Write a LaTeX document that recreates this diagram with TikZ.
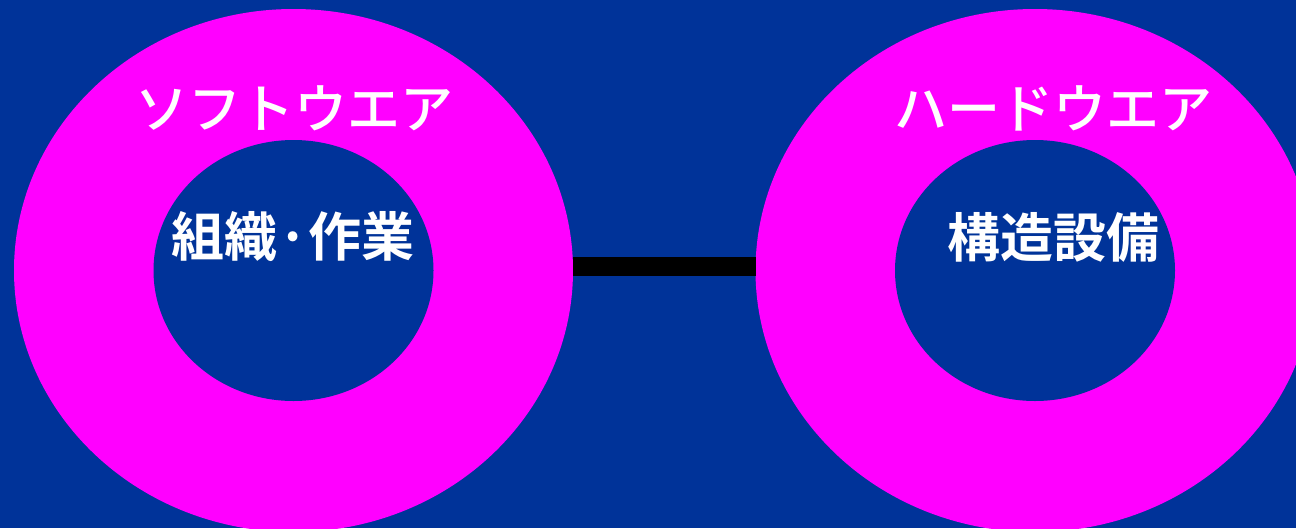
\documentclass[tikz,border=0pt]{standalone}
\usepackage{fontspec}
\newfontfamily\cjk{Noto Sans CJK JP}[BoldFont={Noto Sans CJK JP Bold}]
\newfontfamily\cjkmed{Noto Sans CJK JP Medium}
\usetikzlibrary{shapes.geometric}
\definecolor{bg}{HTML}{003399}
\definecolor{mag}{HTML}{FF00FF}
\tikzset{
  outerring/.style={ellipse, fill=mag, draw=none, inner sep=0pt, outer sep=0pt, minimum width=559pt, minimum height=523pt},
  innerhole/.style={ellipse, fill=bg, draw=none, inner sep=0pt, outer sep=0pt, minimum width=280pt, minimum height=261pt},
  ringlabel/.style={text=white, font=\cjkmed\fontsize{53}{60}\selectfont, inner sep=0pt},
  corelabel/.style={text=white, font=\cjk\bfseries\fontsize{53}{60}\selectfont, inner sep=0pt},
  link/.style={draw=black, line width=19pt}
}
\begin{document}
\begin{tikzpicture}[x=1pt,y=-1pt]
\fill[bg] (0,0) rectangle (1296,528);
\useasboundingbox (0,0) rectangle (1296,528);
\node[outerring] (L) at (293.5,270.5) {};
\node[outerring] (R) at (1035,270.5) {};
\draw[link] ([yshift=4pt]L.east) -- ([yshift=4pt]R.west);
\node[innerhole] (Li) at (293.5,270.5) {};
\node[innerhole] (Ri) at (1035,270.5) {};
\node[ringlabel] (Lt) at (294,108.5) {ソフトウエア};
\node[ringlabel] (Rt) at (1053,108.5) {ハードウエア};
\node[corelabel] (Lc) at (293,237) {組織·作業};
\node[corelabel] (Rc) at (1053,237) {構造設備};
\end{tikzpicture}
\end{document}
